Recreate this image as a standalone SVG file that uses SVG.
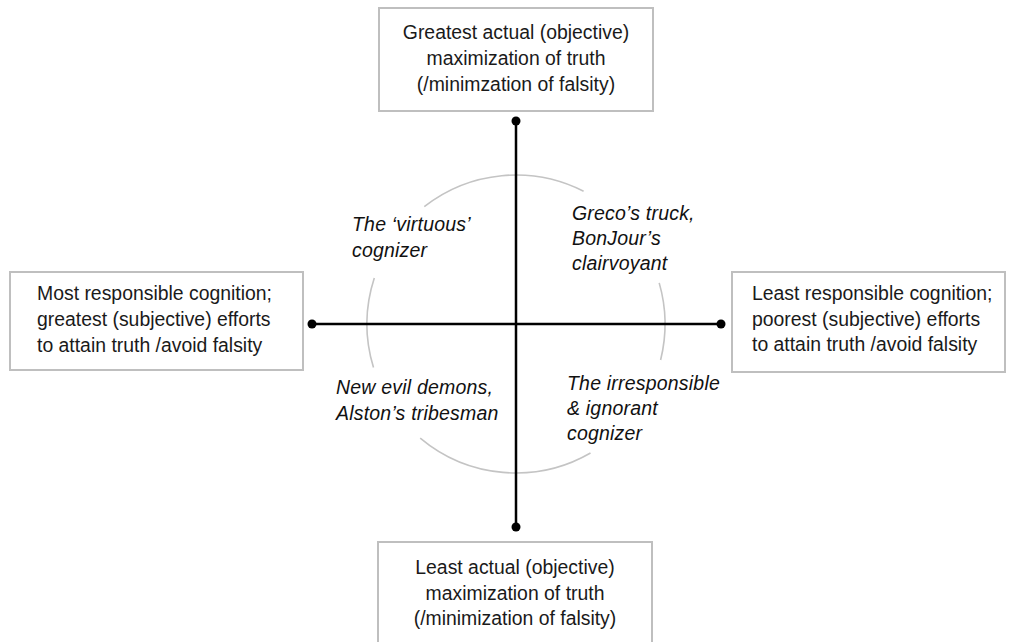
<svg xmlns="http://www.w3.org/2000/svg" width="1016" height="642" viewBox="0 0 1016 642">
<style>
.box{fill:#ffffff;stroke:#bfbfbf;stroke-width:2}
.bt{font-family:"Liberation Sans",Arial,sans-serif;font-size:19.4px;fill:#1a1a1a}
.it{font-family:"Liberation Sans",Arial,sans-serif;font-size:19.5px;font-style:italic;fill:#111111;letter-spacing:0.2px}
.axis{stroke:#000000;stroke-width:2.5;fill:none}
.arc{stroke:#c4c4c4;stroke-width:1.6;fill:none}
.dot{fill:#000000}
</style>
<rect width="1016" height="642" fill="#ffffff"/>
<g id="circle">
<path class="arc" d="M424.3,206.6 A149,149 0 0 1 583.6,191.2"/>
<path class="arc" d="M659.2,282.9 A149,149 0 0 1 660.6,360"/>
<path class="arc" d="M590.5,453 A149,149 0 0 1 420.2,438.1"/>
<path class="arc" d="M373.5,367.6 A149,149 0 0 1 374.3,278"/>
</g>
<g id="connectors">
<line class="axis" x1="516" y1="121" x2="516" y2="527"/>
<line class="axis" x1="312" y1="324" x2="721" y2="324"/>
<circle class="dot" cx="516" cy="121" r="4.5"/>
<circle class="dot" cx="516" cy="527" r="4.5"/>
<circle class="dot" cx="312" cy="324" r="4.5"/>
<circle class="dot" cx="721" cy="324" r="4.5"/>
</g>
<g id="node-top">
<rect class="box" x="379" y="8" width="274" height="103"/>
<text class="bt" text-anchor="middle" x="516" y="39">Greatest actual (objective)</text>
<text class="bt" text-anchor="middle" x="516" y="65">maximization of truth</text>
<text class="bt" text-anchor="middle" x="516" y="91">(/minimzation of falsity)</text>
</g>
<g id="node-bottom">
<rect class="box" x="378" y="542" width="274" height="110"/>
<text class="bt" text-anchor="middle" x="515" y="574">Least actual (objective)</text>
<text class="bt" text-anchor="middle" x="515" y="600">maximization of truth</text>
<text class="bt" text-anchor="middle" x="515" y="625">(/minimization of falsity)</text>
</g>
<g id="node-left">
<rect class="box" x="10" y="272" width="293" height="98"/>
<text class="bt" x="37" y="300">Most responsible cognition;</text>
<text class="bt" x="37" y="326">greatest (subjective) efforts</text>
<text class="bt" x="37" y="352">to attain truth /avoid falsity</text>
</g>
<g id="node-right">
<rect class="box" x="732" y="272" width="273" height="100"/>
<text class="bt" x="752" y="300">Least responsible cognition;</text>
<text class="bt" x="752" y="326">poorest (subjective) efforts</text>
<text class="bt" x="752" y="351">to attain truth /avoid falsity</text>
</g>
<g id="label-tl">
<text class="it" x="352" y="231">The ‘virtuous’</text>
<text class="it" x="352" y="257">cognizer</text>
</g>
<g id="label-tr">
<text class="it" x="572" y="220">Greco’s truck,</text>
<text class="it" x="572" y="245">BonJour’s</text>
<text class="it" x="572" y="270">clairvoyant</text>
</g>
<g id="label-bl">
<text class="it" x="336" y="394">New evil demons,</text>
<text class="it" x="336" y="420">Alston’s tribesman</text>
</g>
<g id="label-br">
<text class="it" x="567" y="390">The irresponsible</text>
<text class="it" x="567" y="415">&amp; ignorant</text>
<text class="it" x="567" y="440">cognizer</text>
</g>
</svg>
